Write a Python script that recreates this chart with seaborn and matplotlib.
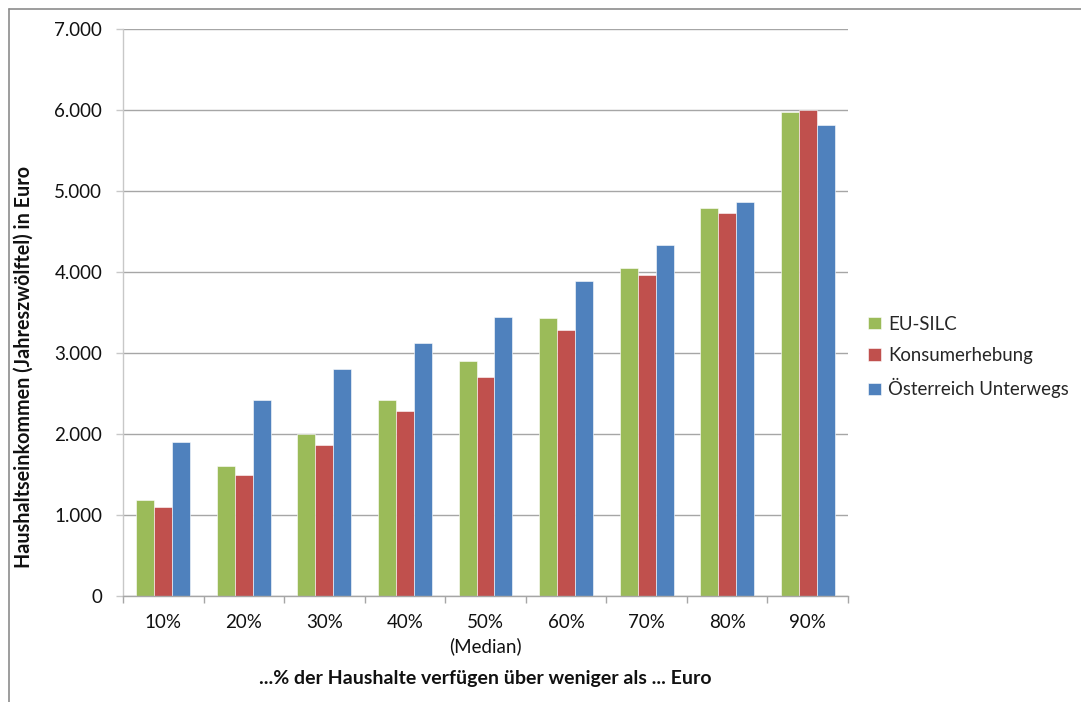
import matplotlib
matplotlib.use("Agg")
import matplotlib.pyplot as plt
from matplotlib.lines import Line2D
from matplotlib.ticker import FuncFormatter, MultipleLocator
import seaborn as sns
import pandas as pd

# Monthly household income thresholds by percentile (Euro)
categories = ["10%", "20%", "30%", "40%", "50%\n(Median)", "60%", "70%", "80%", "90%"]
eu_silc = [1190, 1610, 2000, 2420, 2905, 3430, 4050, 4795, 5970]
konsumerhebung = [1100, 1490, 1870, 2290, 2700, 3280, 3965, 4730, 6000]
oesterreich_unterwegs = [1900, 2415, 2800, 3120, 3440, 3885, 4335, 4870, 5815]
series_names = ["EU-SILC", "Konsumerhebung", "Österreich Unterwegs"]
colors = ["#9BBB59", "#C0504D", "#4F81BD"]

df = pd.DataFrame({
    "Perzentil": categories * 3,
    "Einkommen": eu_silc + konsumerhebung + oesterreich_unterwegs,
    "Quelle": [s for s in series_names for _ in categories],
})

sns.set_theme(style="white")
plt.rcParams["font.family"] = ["Lato", "DejaVu Sans"]

fig = plt.figure(figsize=(10.81, 7.02), dpi=100)
ax = fig.add_axes([123 / 1081, (702 - 596) / 702, (848 - 123) / 1081, (596 - 29) / 702])

sns.barplot(data=df, x="Perzentil", y="Einkommen", hue="Quelle",
            palette=colors, width=0.67, ax=ax, saturation=1,
            edgecolor="white", linewidth=0.4)

ax.set_ylim(0, 7000)
ax.set_xlim(-0.5, len(categories) - 0.5)
ax.yaxis.set_major_locator(MultipleLocator(1000))
ax.yaxis.set_major_formatter(FuncFormatter(lambda v, p: f"{v:,.0f}".replace(",", ".")))
ax.grid(axis="y", color="#a6a6a6", linewidth=1.0)
ax.set_axisbelow(True)

for side in ["top", "right"]:
    ax.spines[side].set_visible(False)
ax.spines["left"].set_color("#c8c8c8")
ax.spines["bottom"].set_color("#a6a6a6")
ax.spines["left"].set_linewidth(1.0)
ax.spines["bottom"].set_linewidth(1.0)

# category ticks on the boundaries between groups
ax.set_xticks([i + 0.5 for i in range(-1, len(categories))], minor=True)
ax.tick_params(axis="x", which="minor", length=5, color="#a6a6a6", width=1, direction="out", bottom=True)
ax.tick_params(axis="x", which="major", length=0, pad=13, labelsize=13.5, labelcolor="#111111")
ax.tick_params(axis="y", which="major", length=5, color="#c8c8c8", width=1, direction="out",
               left=True, pad=10, labelsize=13.5, labelcolor="#111111")
for lbl in ax.get_xticklabels():
    lbl.set_linespacing(1.4)
    lbl.set_verticalalignment("top")

ax.set_xlabel("...% der Haushalte verfügen über weniger als ... Euro",
              fontsize=14, fontweight="bold", color="#111111")
ax.set_ylabel("Haushaltseinkommen (Jahreszwölftel) in Euro",
              fontsize=14.2, fontweight="bold", color="#111111")
ax.xaxis.set_label_coords(0.5, -0.1305)
ax.yaxis.set_label_coords(-0.1228, 0.404)

handles, labels = ax.get_legend_handles_labels()
ax.legend(handles, labels, loc="center left", bbox_to_anchor=(1.018, 0.4215),
          frameon=False, fontsize=13.4, handlelength=0.65, handleheight=0.65,
          handletextpad=0.4, labelspacing=0.77, borderaxespad=0)

# outer chart frame
fig.add_artist(Line2D([8.5 / 1081, 8.5 / 1081], [0, 1 - 9 / 702], transform=fig.transFigure,
                      color="#8c8c8c", linewidth=1.2))
fig.add_artist(Line2D([8.5 / 1081, 1], [1 - 9 / 702, 1 - 9 / 702], transform=fig.transFigure,
                      color="#8c8c8c", linewidth=1.2))

fig.savefig("out.png", dpi=100)
